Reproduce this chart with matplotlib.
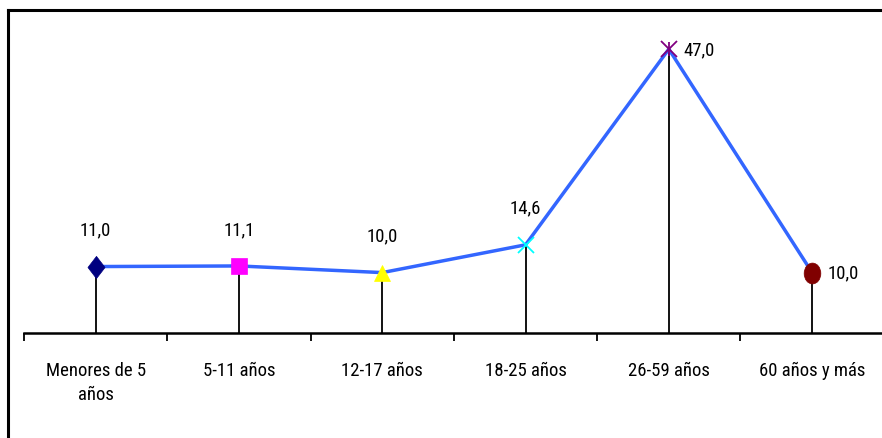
import matplotlib.pyplot as plt
from matplotlib.lines import Line2D
from matplotlib.path import Path
import numpy as np

# Datos
grupos = ['Menores de 5\naños', '5-11 años', '12-17 años', '18-25 años',
          '26-59 años', '60 años y más']
valores = [11.0, 11.1, 10.0, 14.6, 47.0, 10.0]
etiquetas = ['11,0', '11,1', '10,0', '14,6', '47,0', '10,0']

colores = ['#000080', '#FF00FF', '#FFFF00', '#00FFFF', '#800080', '#800000']

# marcadores tipo Excel (rombo y circulo algo alargados)
rombo = Path([(0, -1.3), (1, 0), (0, 1.3), (-1, 0), (0, -1.3)],
             [Path.MOVETO, Path.LINETO, Path.LINETO, Path.LINETO, Path.CLOSEPOLY])
circ = Path.unit_circle()
ovalo = Path(circ.vertices * np.array([1.0, 1.25]), circ.codes)
marcadores = [rombo, 's', '^', 'x', 'x', ovalo]
tamanos = [16, 12, 12, 11, 11, 15]

plt.rcParams['font.family'] = ['Roboto Condensed', 'Liberation Sans', 'DejaVu Sans']

fig = plt.figure(figsize=(8.82, 4.39), dpi=100)
ax = fig.add_axes([24 / 882, 1 - 334 / 439, 1 - 24 / 882 + 0.002, (334 - 32) / 439])

x = list(range(len(valores)))

# lineas verticales hasta el eje
ax.vlines(x, 0, valores, colors='black', linewidth=1.3, zorder=2)

ax.plot(x, valores, color='#3366FF', linewidth=2.5, zorder=3)

for i, v in enumerate(valores):
    mew = 1.3 if marcadores[i] == 'x' else 0.5
    ax.plot(i, v, marker=marcadores[i], color=colores[i], markersize=tamanos[i],
            markeredgewidth=mew, markeredgecolor=colores[i], zorder=4, linestyle='none')
    if i == 4:
        ax.plot(i, v, marker='|', color=colores[i], markersize=10,
                markeredgewidth=1.3, zorder=4, linestyle='none')

# etiquetas de datos
for i, v in enumerate(valores):
    if i < 4:
        ax.annotate(etiquetas[i], (i, v), xytext=(0, 37), textcoords='offset pixels',
                    ha='center', va='center', fontsize=13.5)
    else:
        ax.annotate(etiquetas[i], (i, v), xytext=(15, 0), textcoords='offset pixels',
                    ha='left', va='center', fontsize=13.5)

ax.set_xlim(-0.5, 5.5)
ax.set_ylim(0, 50)

ax.set_xticks(x)
ax.set_xticklabels(grupos, fontsize=13.5, linespacing=1.45, va='top')
ax.tick_params(axis='x', which='major', length=0, pad=20)
ax.set_xticks([i - 0.5 for i in range(len(valores) + 1)], minor=True)
ax.tick_params(axis='x', which='minor', length=6, width=1.3, direction='out')

ax.set_yticks([])
for s in ['left', 'right', 'top']:
    ax.spines[s].set_visible(False)
ax.spines['bottom'].set_linewidth(1.8)
ax.set_facecolor('none')

# marco exterior
fig.add_artist(Line2D([8 / 882, 8 / 882], [0, 1 - 11 / 439], color='black',
                      linewidth=2.2, transform=fig.transFigure))
fig.add_artist(Line2D([8 / 882, 1], [1 - 11 / 439, 1 - 11 / 439], color='black',
                      linewidth=2.2, transform=fig.transFigure))

plt.savefig('out.png', dpi=100)
